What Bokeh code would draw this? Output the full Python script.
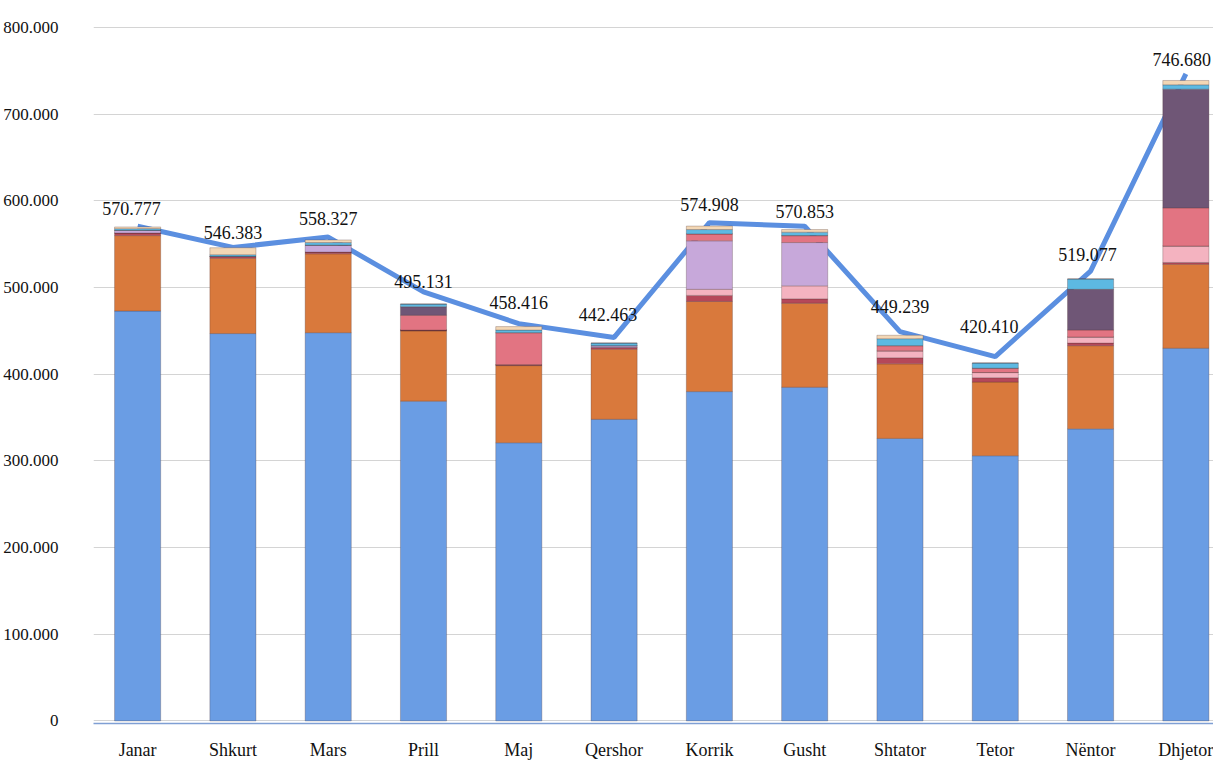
from bokeh.plotting import figure
from bokeh.models import ColumnDataSource, Range1d, FixedTicker, CustomJSTickFormatter
from bokeh.core.properties import value
from bokeh.embed import file_html
from bokeh.resources import INLINE

months = ["Janar", "Shkurt", "Mars", "Prill", "Maj", "Qershor",
          "Korrik", "Gusht", "Shtator", "Tetor", "Nëntor", "Dhjetor"]
totals = [570777, 546383, 558327, 495131, 458416, 442463,
          574908, 570853, 449239, 420410, 519077, 746680]

# stacked segments (thousands)
seg_blue = [473, 447, 448, 369, 321, 348, 380, 385, 326, 306, 337, 430]
seg_orange = [87, 87, 91, 81, 89, 81, 104, 97, 86, 85, 96, 97]
seg_darkred = [3, 2, 2, 1, 1, 2, 7, 5, 7, 5, 3, 2]
seg_pink = [0, 0, 0, 0, 0, 0, 7, 15, 8, 6, 7, 19]
seg_lavender = [3, 0, 8, 0, 0, 2, 56, 50, 0, 0, 0, 0]
seg_rose = [0, 0, 0, 17, 37, 0, 8, 8, 6, 5, 8, 44]
seg_purple = [0, 0, 0, 10, 0, 0, 0, 0, 0, 0, 47, 137]
seg_lightblue = [2, 2, 3, 3, 3, 3, 5, 4, 8, 6, 12, 5]
seg_peach = [2, 8, 3, 0, 4, 0, 4, 3, 4, 0, 0, 5]

y_ticks = [0, 100000, 200000, 300000, 400000, 500000, 600000, 700000, 800000]

# label offsets (pixels)
label_dy = [-18, -15, -19, -10, -21, -23, -18, -15, -25, -30, -17, -14]
label_dx = [-6, 0, 0, 0, 0, -6, 0, 0, 0, -6, -3, -4]

series = ["blue", "orange", "darkred", "pink", "lavender", "rose", "purple", "lightblue", "peach"]
seg_data = [seg_blue, seg_orange, seg_darkred, seg_pink, seg_lavender, seg_rose,
            seg_purple, seg_lightblue, seg_peach]
colors = ["#6A9DE4", "#D9793C", "#B5485A", "#F4B3C0", "#C7A8DA", "#E27482",
          "#6F5676", "#5DB9E2", "#F3D7B5"]

xs = list(range(len(months)))
data = {"x": xs}
for name, vals in zip(series, seg_data):
    data[name] = [v * 1000 for v in vals]
source = ColumnDataSource(data)

def fmt(n):
    return f"{n:,}".replace(",", ".")

line_src = ColumnDataSource(dict(
    x=xs, y=totals, label=[fmt(t) for t in totals], dy=label_dy, dx=label_dx))

p = figure(width=1213, height=763, output_backend="svg", toolbar_location=None,
           x_range=Range1d(-0.463, 11.29), y_range=Range1d(-3000, 814000),
           min_border_left=87, min_border_right=0, min_border_top=15, min_border_bottom=40)
p.outline_line_color = None
p.background_fill_color = "white"

# line behind bars
p.line("x", "y", source=line_src, line_color="#5B8FE0", line_width=5)

p.vbar_stack(series, x="x", width=0.484, color=colors, source=source,
             line_color="#4a3030", line_alpha=0.35, line_width=0.8)

p.text("x", "y", text="label", source=line_src, y_offset="dy", x_offset="dx",
       text_align="center", text_baseline="alphabetic",
       text_font=value("Liberation Serif"), text_font_size="18px", text_color="#111111")

# axes
p.yaxis.ticker = FixedTicker(ticks=y_ticks)
p.yaxis.formatter = CustomJSTickFormatter(
    code=r"return tick.toFixed(0).replace(/\B(?=(\d{3})+(?!\d))/g, '.');")
p.yaxis.axis_line_color = None
p.yaxis.major_tick_line_color = None
p.yaxis.minor_tick_line_color = None
p.yaxis.major_label_standoff = 29
p.yaxis.major_label_text_font = "Liberation Serif"
p.yaxis.major_label_text_font_size = "17px"
p.yaxis.major_label_text_color = "#111111"

p.xaxis.ticker = FixedTicker(ticks=xs)
p.xaxis.major_label_overrides = {i: m for i, m in enumerate(months)}
p.xaxis.axis_line_color = "#7f9fd4"
p.xaxis.axis_line_width = 1.5
p.xaxis.major_tick_line_color = None
p.xaxis.minor_tick_line_color = None
p.xaxis.major_label_standoff = 10
p.xaxis.major_label_text_font = "Liberation Serif"
p.xaxis.major_label_text_font_size = "18px"
p.xaxis.major_label_text_color = "#111111"

p.xgrid.grid_line_color = None
p.ygrid.ticker = FixedTicker(ticks=y_ticks)
p.ygrid.grid_line_color = "#d4d4d4"
p.ygrid.grid_line_width = 1

open("out.html", "w").write(file_html(p, INLINE))
